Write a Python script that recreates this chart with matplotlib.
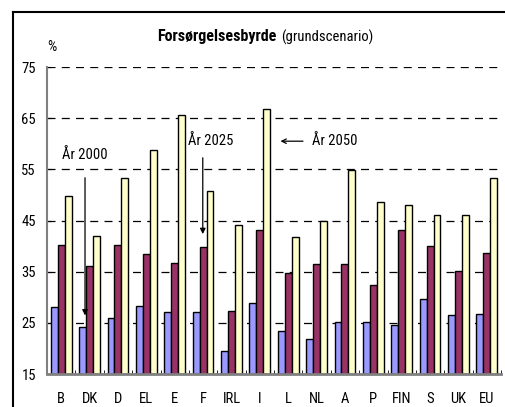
import matplotlib
matplotlib.use("Agg")
import matplotlib.pyplot as plt
import numpy as np
from matplotlib.lines import Line2D

countries = ["B", "DK", "D", "EL", "E", "F", "IRL", "I", "L", "NL", "A", "P", "FIN", "S", "UK", "EU"]
y2000 = [28.1, 24.2, 25.9, 28.3, 27.2, 27.2, 19.5, 28.9, 23.5, 21.9, 25.2, 25.2, 24.6, 29.6, 26.5, 26.8]
y2025 = [40.3, 36.1, 40.2, 38.4, 36.7, 39.9, 27.4, 43.2, 34.8, 36.5, 36.5, 32.4, 43.2, 40.1, 35.1, 38.7]
y2050 = [49.7, 42.0, 53.3, 58.7, 65.6, 50.8, 44.2, 66.8, 41.8, 44.9, 54.9, 48.7, 48.1, 46.1, 46.1, 53.4]
yticks = [15, 25, 35, 45, 55, 65, 75]

FONT = ["Roboto Condensed", "DejaVu Sans"]
plt.rcParams["font.family"] = FONT
FS = 10.5

W, H = 506, 407
fig = plt.figure(figsize=(W / 100, H / 100), dpi=100)
ax = fig.add_axes([47 / W, 1 - 374 / H, (501 - 47) / W, (374 - 67) / H])

x = np.arange(len(countries))
bw = 0.245
base = 15
ax.bar(x - bw, np.array(y2000) - base, bw, bottom=base, color="#9999FF", edgecolor="black", linewidth=1, zorder=3)
ax.bar(x, np.array(y2025) - base, bw, bottom=base, color="#993366", edgecolor="black", linewidth=1, zorder=3)
ax.bar(x + bw, np.array(y2050) - base, bw, bottom=base, color="#FFFFCC", edgecolor="black", linewidth=1, zorder=3)

ax.set_xlim(-0.5, len(countries) - 0.5)
ax.set_ylim(15, 75)
ax.set_yticks(yticks)
ax.set_yticklabels([str(v) for v in yticks], fontsize=FS)
for v in yticks[1:]:
    ax.axhline(v, color="black", linestyle=(0, (6.4, 5)), linewidth=0.9, zorder=1)

ax.set_xticks(x)
ax.set_xticklabels(countries, fontsize=FS)
ax.tick_params(axis="x", length=0, pad=13)
ax.tick_params(axis="y", length=3, direction="in", pad=8, color="black")
ax.set_xticks(np.arange(len(countries)) + 0.5, minor=True)
ax.tick_params(axis="x", which="minor", direction="in", length=3, color="black")

for s in ["top", "right"]:
    ax.spines[s].set_visible(False)
ax.spines["left"].set_color("#808080")
ax.spines["left"].set_linewidth(1.5)
ax.spines["bottom"].set_color("#808080")
ax.spines["bottom"].set_linewidth(2)
ax.spines["bottom"].set_zorder(4)

# annotations
ax.text(0.03, 57.8, "År 2000", fontsize=FS, va="center", ha="left")
ax.annotate("", xy=(0.84, 25.9), xytext=(0.84, 53.9),
            arrowprops=dict(arrowstyle="-|>", color="black", lw=0.9, mutation_scale=8), zorder=5)
ax.text(4.46, 60.5, "År 2025", fontsize=FS, va="center", ha="left")
ax.annotate("", xy=(4.99, 41.8), xytext=(4.99, 57.8),
            arrowprops=dict(arrowstyle="-|>", color="black", lw=0.9, mutation_scale=8), zorder=5)
ax.text(8.83, 60.5, "År 2050", fontsize=FS, va="center", ha="left")
ax.annotate("", xy=(7.63, 60.5), xytext=(8.62, 60.5),
            arrowprops=dict(arrowstyle="->", color="black", lw=0.9, mutation_scale=8), zorder=5)

# title and unit
fig.text(277 / W, 1 - 37 / H, "Forsørgelsesbyrde", fontsize=11.5, fontweight="bold", ha="right", va="center")
fig.text(281 / W, 1 - 37.5 / H, "(grundscenario)", fontsize=10.5, ha="left", va="center")
fig.text(52 / W, 1 - 47 / H, "%", fontsize=FS, ha="center", va="center")

# outer frame (top and left edges visible)
fig.lines.append(Line2D([13 / W, 13 / W], [0, 1 - 11.5 / H], transform=fig.transFigure, color="black", linewidth=1.5))
fig.lines.append(Line2D([13 / W, 505 / W], [1 - 11.5 / H, 1 - 11.5 / H], transform=fig.transFigure, color="black", linewidth=1.5))

fig.savefig("out.png", dpi=100)
